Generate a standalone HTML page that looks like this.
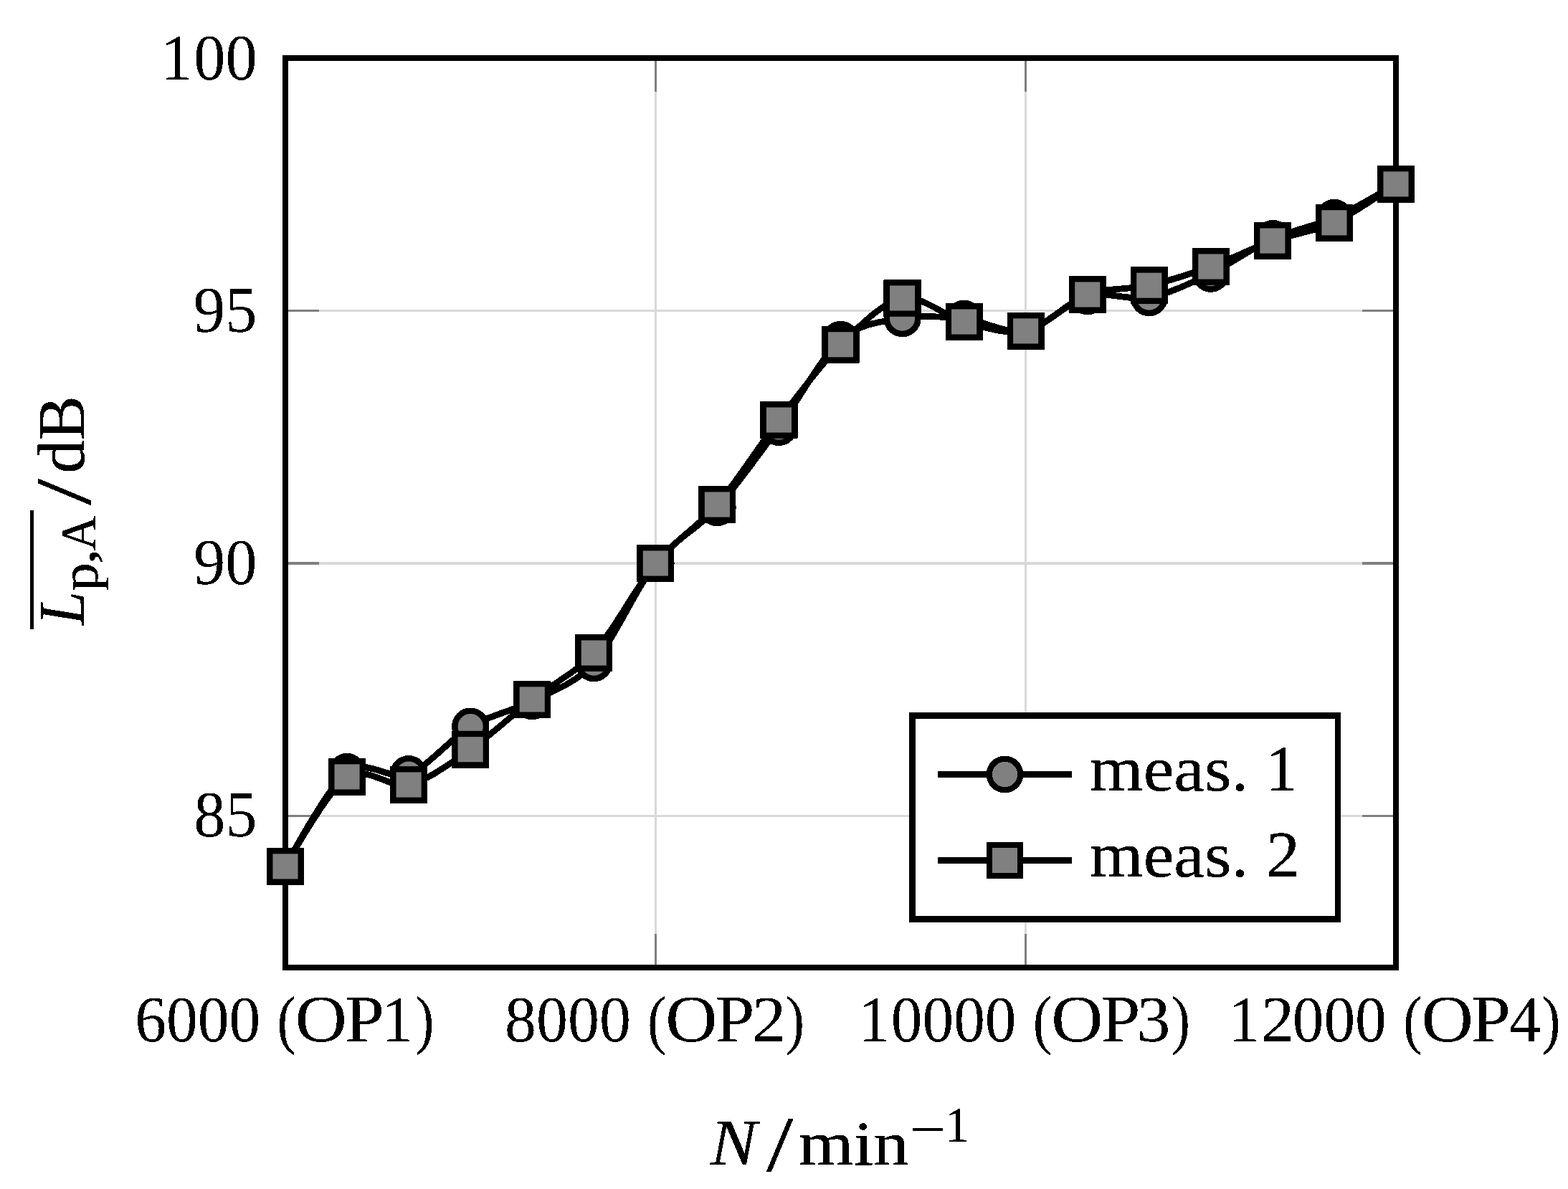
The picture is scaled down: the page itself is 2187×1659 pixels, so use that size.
<!DOCTYPE html>
<html lang="en"><head><meta charset="utf-8"><title>Sound pressure level over rotational speed</title>
<style>html,body{margin:0;padding:0;background:#fff;}body{width:2187px;height:1659px;overflow:hidden;}svg{display:block;}text{font-family:"Liberation Serif", "DejaVu Serif", serif;fill:#000;font-kerning:none;white-space:pre;}</style></head><body>
<svg width="2187" height="1659" viewBox="0 0 2187 1659">
<defs><filter id="bw" filterUnits="userSpaceOnUse" x="0" y="0" width="2187" height="1659" color-interpolation-filters="sRGB"><feComponentTransfer><feFuncA type="discrete" tableValues="0 1 1 1"/></feComponentTransfer></filter><filter id="tx" filterUnits="userSpaceOnUse" x="0" y="0" width="2187" height="1659" color-interpolation-filters="sRGB"><feComponentTransfer><feFuncA type="discrete" tableValues="0 0 0 1 1 1"/></feComponentTransfer></filter></defs>
<rect x="0" y="0" width="2187" height="1659" fill="#fff"/>
<g shape-rendering="crispEdges">
<g fill="#d9d9d9">
<rect x="913" y="81" width="3" height="1269"/>
<rect x="1429" y="81" width="3" height="1269"/>
<rect x="398" y="432" width="1549" height="3"/>
<rect x="398" y="784" width="1549" height="4"/>
<rect x="398" y="1137" width="1549" height="3"/>
</g>
<g fill="#7f7f7f">
<rect x="913" y="81" width="3" height="47"/>
<rect x="913" y="1303" width="3" height="47"/>
<rect x="1429" y="81" width="3" height="47"/>
<rect x="1429" y="1303" width="3" height="47"/>
<rect x="398" y="432" width="47" height="3"/>
<rect x="1900" y="432" width="47" height="3"/>
<rect x="398" y="784" width="47" height="4"/>
<rect x="1900" y="784" width="47" height="4"/>
<rect x="398" y="1137" width="47" height="3"/>
<rect x="1900" y="1137" width="47" height="3"/>
</g>
<rect x="398.0" y="81.0" width="1549.0" height="1269.0" fill="none" stroke="#000" stroke-width="8"/>
</g>
<g filter="url(#bw)">
<path d="M398.00 1208.90 C398.00 1208.90 457.79 1096.47 484.06 1076.80 C510.32 1057.13 543.84 1089.65 570.11 1080.00 C596.38 1070.35 629.90 1029.12 656.17 1013.60 C682.44 998.08 715.95 991.79 742.22 978.30 C768.49 964.81 802.01 954.55 828.28 925.20 C854.55 895.85 888.06 819.13 914.33 786.00 C940.60 752.87 974.12 737.10 1000.39 708.10 C1026.66 679.10 1060.18 631.74 1086.44 596.00 C1112.71 560.26 1146.23 497.07 1172.50 473.90 C1198.77 450.73 1232.29 448.66 1258.56 444.20 C1284.82 439.74 1318.34 442.00 1344.61 444.70 C1370.88 447.40 1404.40 466.71 1430.67 461.90 C1456.94 457.09 1490.45 420.34 1516.72 413.20 C1542.99 406.06 1576.51 419.89 1602.78 415.10 C1629.05 410.31 1662.56 394.33 1688.83 381.80 C1715.10 369.27 1748.62 344.89 1774.89 333.00 C1801.16 321.11 1834.68 315.51 1860.94 303.90 C1887.21 292.29 1947.00 256.90 1947.00 256.90" fill="none" stroke="#000" stroke-width="8.3" stroke-linejoin="round"/>
<g fill="#808080" stroke="#000" stroke-width="8.3">
<circle cx="398.00" cy="1208.90" r="21.70"/>
<circle cx="484.06" cy="1076.80" r="21.70"/>
<circle cx="570.11" cy="1080.00" r="21.70"/>
<circle cx="656.17" cy="1013.60" r="21.70"/>
<circle cx="742.22" cy="978.30" r="21.70"/>
<circle cx="828.28" cy="925.20" r="21.70"/>
<circle cx="914.33" cy="786.00" r="21.70"/>
<circle cx="1000.39" cy="708.10" r="21.70"/>
<circle cx="1086.44" cy="596.00" r="21.70"/>
<circle cx="1172.50" cy="473.90" r="21.70"/>
<circle cx="1258.56" cy="444.20" r="21.70"/>
<circle cx="1344.61" cy="444.70" r="21.70"/>
<circle cx="1430.67" cy="461.90" r="21.70"/>
<circle cx="1516.72" cy="413.20" r="21.70"/>
<circle cx="1602.78" cy="415.10" r="21.70"/>
<circle cx="1688.83" cy="381.80" r="21.70"/>
<circle cx="1774.89" cy="333.00" r="21.70"/>
<circle cx="1860.94" cy="303.90" r="21.70"/>
<circle cx="1947.00" cy="256.90" r="21.70"/>
</g>
<path d="M398.00 1208.90 C398.00 1208.90 457.79 1101.28 484.06 1083.90 C510.32 1066.52 543.84 1100.83 570.11 1095.00 C596.38 1089.17 629.90 1063.88 656.17 1045.70 C682.44 1027.52 715.95 996.46 742.22 975.90 C768.49 955.34 802.01 939.98 828.28 911.00 C854.55 882.02 888.06 817.59 914.33 786.00 C940.60 754.41 974.12 734.52 1000.39 704.00 C1026.66 673.48 1060.18 620.07 1086.44 586.00 C1112.71 551.93 1146.23 506.75 1172.50 480.80 C1198.77 454.85 1232.29 420.85 1258.56 416.00 C1284.82 411.15 1318.34 441.99 1344.61 449.00 C1370.88 456.01 1404.40 467.70 1430.67 461.90 C1456.94 456.10 1490.45 420.72 1516.72 411.00 C1542.99 401.28 1576.51 404.15 1602.78 398.20 C1629.05 392.25 1662.56 381.49 1688.83 372.00 C1715.10 362.51 1748.62 345.34 1774.89 336.00 C1801.16 326.66 1834.68 322.87 1860.94 310.80 C1887.21 298.73 1947.00 256.90 1947.00 256.90" fill="none" stroke="#000" stroke-width="8.3" stroke-linejoin="round"/>
<g fill="#808080" stroke="#000" stroke-width="8.3">
<rect x="376.30" y="1187.20" width="43.40" height="43.40"/>
<rect x="462.36" y="1062.20" width="43.40" height="43.40"/>
<rect x="548.41" y="1073.30" width="43.40" height="43.40"/>
<rect x="634.47" y="1024.00" width="43.40" height="43.40"/>
<rect x="720.52" y="954.20" width="43.40" height="43.40"/>
<rect x="806.58" y="889.30" width="43.40" height="43.40"/>
<rect x="892.63" y="764.30" width="43.40" height="43.40"/>
<rect x="978.69" y="682.30" width="43.40" height="43.40"/>
<rect x="1064.74" y="564.30" width="43.40" height="43.40"/>
<rect x="1150.80" y="459.10" width="43.40" height="43.40"/>
<rect x="1236.86" y="394.30" width="43.40" height="43.40"/>
<rect x="1322.91" y="427.30" width="43.40" height="43.40"/>
<rect x="1408.97" y="440.20" width="43.40" height="43.40"/>
<rect x="1495.02" y="389.30" width="43.40" height="43.40"/>
<rect x="1581.08" y="376.50" width="43.40" height="43.40"/>
<rect x="1667.13" y="350.30" width="43.40" height="43.40"/>
<rect x="1753.19" y="314.30" width="43.40" height="43.40"/>
<rect x="1839.24" y="289.10" width="43.40" height="43.40"/>
<rect x="1925.30" y="235.20" width="43.40" height="43.40"/>
</g>
</g>
<g shape-rendering="crispEdges">
<rect x="1268" y="994" width="602" height="293" fill="#000"/>
<rect x="1277" y="1003" width="585" height="275" fill="#fff"/>
<rect x="1308" y="1076.0" width="187" height="9" fill="#000"/>
<circle cx="1401.5" cy="1080.5" r="21.70" fill="#808080" stroke="#000" stroke-width="8.3"/>
<rect x="1308" y="1196.0" width="187" height="9" fill="#000"/>
<rect x="1379.80" y="1178.80" width="43.40" height="43.40" fill="#808080" stroke="#000" stroke-width="8.3"/>
</g>
<g filter="url(#bw)">
<text><tspan x="1519.88" y="1103.34" font-size="87.95" textLength="221.56" lengthAdjust="spacingAndGlyphs">meas.</tspan> <tspan x="1765.74" y="1103.00" font-size="90.74" textLength="43.60" lengthAdjust="spacingAndGlyphs">1</tspan></text>
<text><tspan x="1519.88" y="1223.34" font-size="87.95" textLength="221.56" lengthAdjust="spacingAndGlyphs">meas.</tspan> <tspan x="1765.97" y="1223.00" font-size="90.47" textLength="47.02" lengthAdjust="spacingAndGlyphs">2</tspan></text>
</g>
<g filter="url(#tx)">
<text><tspan x="223.95" y="111.00" font-size="91.64" textLength="44.38" lengthAdjust="spacingAndGlyphs">1</tspan><tspan x="270.23" y="111.11" font-size="91.14" textLength="88.44" lengthAdjust="spacingAndGlyphs">00</tspan></text>
<text><tspan x="269.84" y="463.21" font-size="90.94" textLength="88.62" lengthAdjust="spacingAndGlyphs">95</tspan></text>
<text><tspan x="270.00" y="815.02" font-size="90.62" textLength="88.36" lengthAdjust="spacingAndGlyphs">90</tspan></text>
<text><tspan x="270.45" y="1167.12" font-size="90.54" textLength="87.99" lengthAdjust="spacingAndGlyphs">85</tspan></text>
<text><tspan x="188.13" y="1453.31" font-size="90.84" textLength="175.30" lengthAdjust="spacingAndGlyphs">6000</tspan> <tspan x="386.43" y="1452.62" font-size="90.54" textLength="26.32" lengthAdjust="spacingAndGlyphs">(</tspan><tspan x="411.57" y="1453.10" font-size="92.28" textLength="72.65" lengthAdjust="spacingAndGlyphs">O</tspan><tspan x="481.14" y="1453.10" font-size="92.09" textLength="55.12" lengthAdjust="spacingAndGlyphs">P</tspan><tspan x="532.21" y="1453.10" font-size="91.49" textLength="44.31" lengthAdjust="spacingAndGlyphs">1</tspan><tspan x="579.35" y="1452.62" font-size="90.54" textLength="26.32" lengthAdjust="spacingAndGlyphs">)</tspan></text>
<text><tspan x="704.05" y="1453.31" font-size="90.84" textLength="175.80" lengthAdjust="spacingAndGlyphs">8000</tspan> <tspan x="902.93" y="1452.62" font-size="90.54" textLength="26.32" lengthAdjust="spacingAndGlyphs">(</tspan><tspan x="928.07" y="1453.10" font-size="92.28" textLength="72.65" lengthAdjust="spacingAndGlyphs">O</tspan><tspan x="997.64" y="1453.10" font-size="92.09" textLength="55.12" lengthAdjust="spacingAndGlyphs">P</tspan><tspan x="1048.93" y="1453.10" font-size="91.22" textLength="47.40" lengthAdjust="spacingAndGlyphs">2</tspan><tspan x="1095.85" y="1452.62" font-size="90.54" textLength="26.32" lengthAdjust="spacingAndGlyphs">)</tspan></text>
<text><tspan x="1197.29" y="1453.10" font-size="91.49" textLength="43.89" lengthAdjust="spacingAndGlyphs">1</tspan><tspan x="1242.77" y="1453.31" font-size="90.84" textLength="174.76" lengthAdjust="spacingAndGlyphs">0000</tspan> <tspan x="1440.83" y="1452.62" font-size="90.54" textLength="26.32" lengthAdjust="spacingAndGlyphs">(</tspan><tspan x="1465.97" y="1453.10" font-size="92.28" textLength="72.65" lengthAdjust="spacingAndGlyphs">O</tspan><tspan x="1535.54" y="1453.10" font-size="92.09" textLength="55.12" lengthAdjust="spacingAndGlyphs">P</tspan><tspan x="1585.61" y="1453.31" font-size="91.53" textLength="46.96" lengthAdjust="spacingAndGlyphs">3</tspan><tspan x="1633.75" y="1452.62" font-size="90.54" textLength="26.32" lengthAdjust="spacingAndGlyphs">)</tspan></text>
<text><tspan x="1713.51" y="1453.10" font-size="91.49" textLength="43.74" lengthAdjust="spacingAndGlyphs">1</tspan><tspan x="1759.27" y="1453.10" font-size="91.22" textLength="45.90" lengthAdjust="spacingAndGlyphs">2</tspan><tspan x="1802.78" y="1453.31" font-size="90.84" textLength="130.95" lengthAdjust="spacingAndGlyphs">000</tspan> <tspan x="1957.33" y="1452.62" font-size="90.54" textLength="26.32" lengthAdjust="spacingAndGlyphs">(</tspan><tspan x="1982.47" y="1453.10" font-size="92.28" textLength="72.65" lengthAdjust="spacingAndGlyphs">O</tspan><tspan x="2052.04" y="1453.10" font-size="92.09" textLength="55.12" lengthAdjust="spacingAndGlyphs">P</tspan><tspan x="2105.08" y="1453.10" font-size="91.76" textLength="43.99" lengthAdjust="spacingAndGlyphs">4</tspan><tspan x="2150.25" y="1452.62" font-size="90.54" textLength="26.32" lengthAdjust="spacingAndGlyphs">)</tspan></text>
</g>
<g filter="url(#bw)">
<text><tspan x="990.62" y="1625.00" font-size="92.01" textLength="65.15" lengthAdjust="spacingAndGlyphs" font-style="italic">N</tspan> <tspan x="1068.90" y="1633.93" font-size="109.43" textLength="37.30" lengthAdjust="spacingAndGlyphs">/</tspan> <tspan x="1113.72" y="1625.10" font-size="86.59" textLength="153.87" lengthAdjust="spacingAndGlyphs">min</tspan><tspan x="1268.50" y="1600.83" font-size="76.30" textLength="50.90" lengthAdjust="spacingAndGlyphs">−</tspan><tspan x="1318.83" y="1593.20" font-size="68.77" textLength="33.38" lengthAdjust="spacingAndGlyphs">1</tspan></text>
</g>
<g transform="translate(0 1000) rotate(-90)" filter="url(#bw)" shape-rendering="crispEdges">
<text><tspan x="127.98" y="116.80" font-size="91.48" textLength="46.48" lengthAdjust="spacingAndGlyphs" font-style="italic">L</tspan><tspan x="175.53" y="135.65" font-size="71.63" textLength="39.34" lengthAdjust="spacingAndGlyphs">p</tspan><tspan x="212.42" y="132.20" font-size="68.92" textLength="22.16" lengthAdjust="spacingAndGlyphs">,</tspan><tspan x="231.74" y="132.90" font-size="69.68" textLength="48.75" lengthAdjust="spacingAndGlyphs">A</tspan> <tspan x="295.00" y="125.93" font-size="109.58" textLength="37.30" lengthAdjust="spacingAndGlyphs">/</tspan> <tspan x="339.55" y="117.29" font-size="92.81" textLength="108.18" lengthAdjust="spacingAndGlyphs">dB</tspan></text>
<rect x="122.1" y="42" width="166.1" height="5.2" fill="#000"/>
</g>
</svg></body></html>
